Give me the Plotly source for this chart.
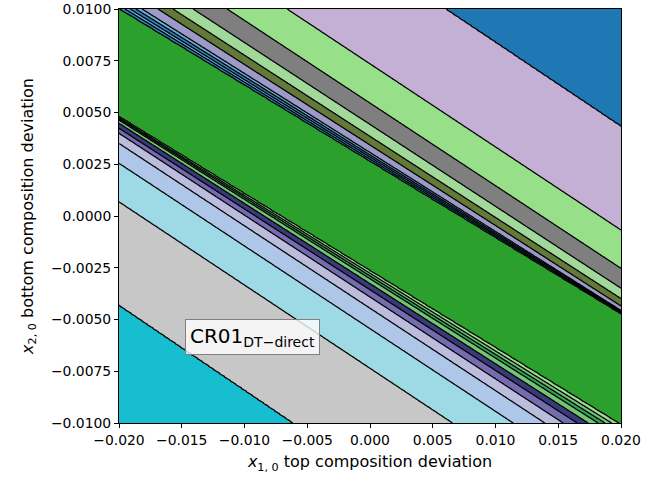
import numpy as np
import plotly.graph_objects as go

# Axis ranges
x_range = [-0.02, 0.02]
y_range = [-0.01, 0.01]

# Lower family of region boundaries (from the cyan corner towards the big green band):
# y where each boundary meets the left edge, x where it meets the bottom edge
lower_left_y = [-0.00430, 0.00069, 0.00255, 0.00351, 0.00400, 0.00424,
                0.00448, 0.00464, 0.00470, 0.00475, 0.00480]
lower_bottom_x = [-0.00611, 0.00659, 0.01142, 0.01394, 0.01540, 0.01652,
                  0.01739, 0.01819, 0.01873, 0.01926, 0.01979]

# Upper family of region boundaries (from the big green band towards the blue corner):
# x where each boundary meets the top edge, y where it meets the right edge
upper_top_x = [-0.01992, -0.01952, -0.01912, -0.01865, -0.01817, -0.01689,
               -0.01570, -0.01410, -0.01139, -0.00661, 0.00598]
upper_right_y = [-0.00471, -0.00468, -0.00464, -0.00460, -0.00457, -0.00435,
                 -0.00399, -0.00349, -0.00253, -0.00068, 0.00431]

# Region colours, bottom-left to top-right
band_colors = [
    "#17becf", "#c7c7c7", "#9edae5", "#aec7e8", "#bcbddc", "#756bb1",
    "#393b79", "#74c476", "#31a354", "#74c476", "#a1d99b", "#2ca02c",
    "#3182bd", "#6baed6", "#3182bd", "#6baed6", "#9e9ac8", "#637939",
    "#a1d99b", "#7f7f7f", "#98df8a", "#c5b0d5", "#1f77b4",
]

x_ticks = [-0.02, -0.015, -0.01, -0.005, 0.0, 0.005, 0.01, 0.015, 0.02]
y_ticks = [-0.01, -0.0075, -0.005, -0.0025, 0.0, 0.0025, 0.005, 0.0075, 0.01]

label_text = "CR01<sub>DT\u2212direct</sub>"
label_pos = (-0.0094, -0.00585)

# ---- boundary lines y = a + m x ----
x0, x1 = x_range
y0, y1 = y_range
slopes, icpts = [], []
for yl, xb in zip(lower_left_y, lower_bottom_x):
    m = (y0 - yl) / (xb - x0)
    slopes.append(m)
    icpts.append(yl - m * x0)
for xt, yr in zip(upper_top_x, upper_right_y):
    m = (yr - y1) / (x1 - xt)
    slopes.append(m)
    icpts.append(y1 - m * xt)
slopes = np.array(slopes)
icpts = np.array(icpts)
nb = len(slopes)

xs = np.linspace(x0, x1, 501)
ys = np.linspace(y0, y1, 721)
Z = np.empty((ys.size, xs.size))
levels = np.arange(0, nb + 2, dtype=float)
for j, xv in enumerate(xs):
    b = icpts + slopes * xv
    bp = np.concatenate([[-1.0], np.maximum.accumulate(b), [1.0]])
    Z[:, j] = np.interp(ys, bp, levels)
Z = np.round(Z, 4)

# discrete colour scale: band k evaluated at fraction k/(n-1)
n = len(band_colors)
cs = []
for k, c in enumerate(band_colors):
    lo = max(0.0, (k - 0.5) / (n - 1))
    hi = min(1.0, (k + 0.5) / (n - 1))
    cs.append([lo, c])
    cs.append([hi, c])

fig = go.Figure()
fig.add_trace(go.Contour(
    x=xs, y=ys, z=Z,
    autocontour=False,
    contours=dict(start=1, end=nb, size=1, coloring="fill", showlines=True),
    line=dict(color="black", width=1.3, smoothing=0),
    colorscale=cs, showscale=False, hoverinfo="skip",
))

fig.add_annotation(
    x=label_pos[0], y=label_pos[1], xref="x", yref="y",
    text=label_text, showarrow=False,
    font=dict(family="DejaVu Sans", size=20, color="black"),
    bgcolor="rgba(255,255,255,0.8)", bordercolor="#808080",
    borderwidth=1, borderpad=4,
)

axis_common = dict(
    showline=True, mirror=True, linecolor="black", linewidth=1,
    ticks="outside", ticklen=4, tickcolor="black", tickwidth=1,
    showgrid=False, zeroline=False, ticklabeloverflow="allow",
    tickfont=dict(family="DejaVu Sans", size=13.9, color="black"),
)

fig.update_xaxes(
    range=x_range, tickvals=x_ticks, tickformat=".3f",
    title=dict(text="<i>x</i><sub>1, 0</sub> top composition deviation",
               font=dict(family="DejaVu Sans", size=16, color="black"), standoff=9),
    **axis_common,
)
fig.update_yaxes(
    range=y_range, tickvals=y_ticks, tickformat=".4f",
    title=dict(text="<i>x</i><sub>2, 0</sub> bottom composition deviation",
               font=dict(family="DejaVu Sans", size=16, color="black"), standoff=13),
    **axis_common,
)

fig.update_layout(
    width=660, height=478,
    margin=dict(l=119, r=39, t=9, b=55, autoexpand=False),
    paper_bgcolor="white", plot_bgcolor="white",
    showlegend=False, hovermode=False, dragmode=False,
)

fig.write_html(
    "out.html",
    config={"displayModeBar": False, "staticPlot": True},
    post_script="document.body.style.margin='0';document.body.style.overflow='hidden';",
)
